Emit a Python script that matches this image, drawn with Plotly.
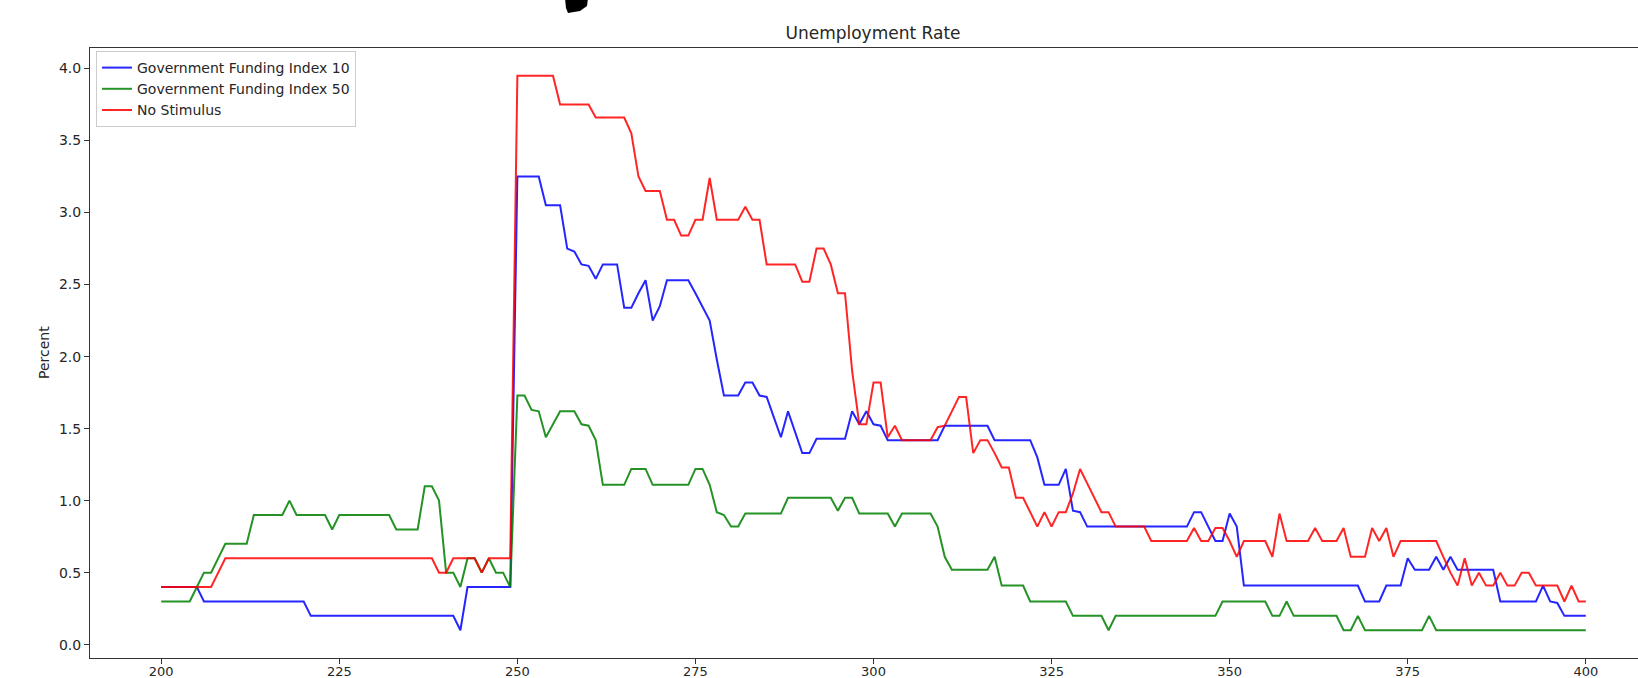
import plotly.graph_objects as go

# Simulation steps shown on the x axis
steps = list(range(200, 401))

# Unemployment rate (%) per step, one value per step from 200 to 400
funding_10 = [
    0.4, 0.4, 0.4, 0.4, 0.4, 0.4, 0.3, 0.3, 0.3, 0.3,          # 200
    0.3, 0.3, 0.3, 0.3, 0.3, 0.3, 0.3, 0.3, 0.3, 0.3,          # 210
    0.3, 0.2, 0.2, 0.2, 0.2, 0.2, 0.2, 0.2, 0.2, 0.2,          # 220
    0.2, 0.2, 0.2, 0.2, 0.2, 0.2, 0.2, 0.2, 0.2, 0.2,          # 230
    0.2, 0.2, 0.1, 0.4, 0.4, 0.4, 0.4, 0.4, 0.4, 0.4,          # 240
    3.25, 3.25, 3.25, 3.25, 3.05, 3.05, 3.05, 2.75, 2.73, 2.64,  # 250
    2.63, 2.54, 2.64, 2.64, 2.64, 2.34, 2.34, 2.44, 2.53, 2.25,  # 260
    2.35, 2.53, 2.53, 2.53, 2.53, 2.44, 2.35, 2.25, 1.98, 1.73,  # 270
    1.73, 1.73, 1.82, 1.82, 1.73, 1.72, 1.58, 1.44, 1.62, 1.47,  # 280
    1.33, 1.33, 1.43, 1.43, 1.43, 1.43, 1.43, 1.62, 1.53, 1.62,  # 290
    1.53, 1.52, 1.42, 1.42, 1.42, 1.42, 1.42, 1.42, 1.42, 1.42,  # 300
    1.52, 1.52, 1.52, 1.52, 1.52, 1.52, 1.52, 1.42, 1.42, 1.42,  # 310
    1.42, 1.42, 1.42, 1.30, 1.11, 1.11, 1.11, 1.22, 0.93, 0.92,  # 320
    0.82, 0.82, 0.82, 0.82, 0.82, 0.82, 0.82, 0.82, 0.82, 0.82,  # 330
    0.82, 0.82, 0.82, 0.82, 0.82, 0.92, 0.92, 0.82, 0.72, 0.72,  # 340
    0.91, 0.82, 0.41, 0.41, 0.41, 0.41, 0.41, 0.41, 0.41, 0.41,  # 350
    0.41, 0.41, 0.41, 0.41, 0.41, 0.41, 0.41, 0.41, 0.41, 0.30,  # 360
    0.30, 0.30, 0.41, 0.41, 0.41, 0.60, 0.52, 0.52, 0.52, 0.61,  # 370
    0.52, 0.61, 0.52, 0.52, 0.52, 0.52, 0.52, 0.52, 0.30, 0.30,  # 380
    0.30, 0.30, 0.30, 0.30, 0.41, 0.30, 0.29, 0.20, 0.20, 0.20,  # 390
    0.20,                                                        # 400
]

funding_50 = [
    0.3, 0.3, 0.3, 0.3, 0.3, 0.4, 0.5, 0.5, 0.6, 0.7,          # 200
    0.7, 0.7, 0.7, 0.9, 0.9, 0.9, 0.9, 0.9, 1.0, 0.9,          # 210
    0.9, 0.9, 0.9, 0.9, 0.8, 0.9, 0.9, 0.9, 0.9, 0.9,          # 220
    0.9, 0.9, 0.9, 0.8, 0.8, 0.8, 0.8, 1.1, 1.1, 1.0,          # 230
    0.5, 0.5, 0.4, 0.6, 0.6, 0.5, 0.6, 0.5, 0.5, 0.4,          # 240
    1.73, 1.73, 1.63, 1.62, 1.44, 1.53, 1.62, 1.62, 1.62, 1.53,  # 250
    1.52, 1.42, 1.11, 1.11, 1.11, 1.11, 1.22, 1.22, 1.22, 1.11,  # 260
    1.11, 1.11, 1.11, 1.11, 1.11, 1.22, 1.22, 1.11, 0.92, 0.90,  # 270
    0.82, 0.82, 0.91, 0.91, 0.91, 0.91, 0.91, 0.91, 1.02, 1.02,  # 280
    1.02, 1.02, 1.02, 1.02, 1.02, 0.93, 1.02, 1.02, 0.91, 0.91,  # 290
    0.91, 0.91, 0.91, 0.82, 0.91, 0.91, 0.91, 0.91, 0.91, 0.82,  # 300
    0.61, 0.52, 0.52, 0.52, 0.52, 0.52, 0.52, 0.61, 0.41, 0.41,  # 310
    0.41, 0.41, 0.30, 0.30, 0.30, 0.30, 0.30, 0.30, 0.20, 0.20,  # 320
    0.20, 0.20, 0.20, 0.10, 0.20, 0.20, 0.20, 0.20, 0.20, 0.20,  # 330
    0.20, 0.20, 0.20, 0.20, 0.20, 0.20, 0.20, 0.20, 0.20, 0.30,  # 340
    0.30, 0.30, 0.30, 0.30, 0.30, 0.30, 0.20, 0.20, 0.30, 0.20,  # 350
    0.20, 0.20, 0.20, 0.20, 0.20, 0.20, 0.10, 0.10, 0.20, 0.10,  # 360
    0.10, 0.10, 0.10, 0.10, 0.10, 0.10, 0.10, 0.10, 0.20, 0.10,  # 370
    0.10, 0.10, 0.10, 0.10, 0.10, 0.10, 0.10, 0.10, 0.10, 0.10,  # 380
    0.10, 0.10, 0.10, 0.10, 0.10, 0.10, 0.10, 0.10, 0.10, 0.10,  # 390
    0.10,                                                        # 400
]

no_stimulus = [
    0.4, 0.4, 0.4, 0.4, 0.4, 0.4, 0.4, 0.4, 0.5, 0.6,          # 200
    0.6, 0.6, 0.6, 0.6, 0.6, 0.6, 0.6, 0.6, 0.6, 0.6,          # 210
    0.6, 0.6, 0.6, 0.6, 0.6, 0.6, 0.6, 0.6, 0.6, 0.6,          # 220
    0.6, 0.6, 0.6, 0.6, 0.6, 0.6, 0.6, 0.6, 0.6, 0.5,          # 230
    0.5, 0.6, 0.6, 0.6, 0.6, 0.5, 0.6, 0.6, 0.6, 0.6,          # 240
    3.95, 3.95, 3.95, 3.95, 3.95, 3.95, 3.75, 3.75, 3.75, 3.75,  # 250
    3.75, 3.66, 3.66, 3.66, 3.66, 3.66, 3.55, 3.25, 3.15, 3.15,  # 260
    3.15, 2.95, 2.95, 2.84, 2.84, 2.95, 2.95, 3.24, 2.95, 2.95,  # 270
    2.95, 2.95, 3.04, 2.95, 2.95, 2.64, 2.64, 2.64, 2.64, 2.64,  # 280
    2.52, 2.52, 2.75, 2.75, 2.64, 2.44, 2.44, 1.90, 1.53, 1.53,  # 290
    1.82, 1.82, 1.44, 1.52, 1.42, 1.42, 1.42, 1.42, 1.42, 1.51,  # 300
    1.52, 1.62, 1.72, 1.72, 1.33, 1.42, 1.42, 1.33, 1.23, 1.23,  # 310
    1.02, 1.02, 0.92, 0.82, 0.92, 0.82, 0.92, 0.92, 1.05, 1.22,  # 320
    1.12, 1.02, 0.92, 0.92, 0.82, 0.82, 0.82, 0.82, 0.82, 0.72,  # 330
    0.72, 0.72, 0.72, 0.72, 0.72, 0.81, 0.72, 0.72, 0.81, 0.81,  # 340
    0.72, 0.61, 0.72, 0.72, 0.72, 0.72, 0.61, 0.91, 0.72, 0.72,  # 350
    0.72, 0.72, 0.81, 0.72, 0.72, 0.72, 0.81, 0.61, 0.61, 0.61,  # 360
    0.81, 0.72, 0.81, 0.61, 0.72, 0.72, 0.72, 0.72, 0.72, 0.72,  # 370
    0.61, 0.50, 0.41, 0.60, 0.41, 0.50, 0.41, 0.41, 0.50, 0.41,  # 380
    0.41, 0.50, 0.50, 0.41, 0.41, 0.41, 0.41, 0.30, 0.41, 0.30,  # 390
    0.30,                                                        # 400
]

series_names = ["Government Funding Index 10", "Government Funding Index 50", "No Stimulus"]
series_values = [funding_10, funding_50, no_stimulus]
series_colors = ["#0000ff", "#008000", "#ff0000"]

x_ticks = [200, 225, 250, 275, 300, 325, 350, 375, 400]
y_ticks = [0.0, 0.5, 1.0, 1.5, 2.0, 2.5, 3.0, 3.5, 4.0]

W, H = 1638, 678
M_L, M_R, M_T, M_B = 90, 0, 48, 20
FONT = "DejaVu Sans"
INK = "#262626"

fig = go.Figure()
for name, vals, col in zip(series_names, series_values, series_colors):
    fig.add_trace(go.Scatter(
        x=steps, y=vals, mode="lines", name=name,
        line=dict(color=col, width=2),
        opacity=0.85,
    ))

axis_common = dict(
    showgrid=False, zeroline=False, showline=True, automargin=False,
    linecolor="#333333", linewidth=1,
    ticks="outside", ticklen=5, tickwidth=1, tickcolor="#333333",
)

fig.update_layout(
    width=W, height=H,
    margin=dict(l=M_L, r=M_R, t=M_T, b=M_B, pad=0, autoexpand=False),
    paper_bgcolor="white", plot_bgcolor="white",
    font=dict(family=FONT, size=14, color=INK),
    title=dict(
        text="Unemployment Rate", font=dict(family=FONT, size=17, color=INK),
        xref="container", x=873 / W, xanchor="center",
        yref="container", y=1 - 33 / H, yanchor="middle",
    ),
    xaxis=dict(range=[190, 407.33], tickvals=x_ticks,
               ticktext=[str(v) for v in x_ticks], mirror=True,
               tickfont=dict(family=FONT, size=13, color=INK),
               ticklabelstandoff=-4, **axis_common),
    yaxis=dict(range=[-0.0925, 4.1425], tickvals=y_ticks,
               ticktext=[f"{v:.1f}" for v in y_ticks], mirror=False,
               tickfont=dict(family=FONT, size=14, color=INK), **axis_common),
    legend=dict(
        x=6 / (W - M_L - M_R), y=1 - 3 / (H - M_T - M_B),
        xanchor="left", yanchor="top",
        bgcolor="rgba(255,255,255,0.8)", bordercolor="#cccccc", borderwidth=1,
        font=dict(family=FONT, size=14, color=INK),
    ),
    showlegend=True,
)

fig.add_annotation(
    text="Percent", textangle=-90, showarrow=False,
    xref="paper", yref="paper",
    x=(44 - M_L) / (W - M_L - M_R), y=0.5,
    xanchor="center", yanchor="middle",
    font=dict(family=FONT, size=14, color=INK),
)


def to_paper(px, py):
    pw = W - M_L - M_R
    ph = H - M_T - M_B
    return (px - M_L) / pw, (H - M_B - py) / ph


# clipped glyph tail at the top edge of the page
pts = [(565, -2), (588, -2), (587, 6), (580, 11), (568, 13), (566, 8)]
path = "M " + " L ".join(f"{to_paper(a, b)[0]:.5f},{to_paper(a, b)[1]:.5f}" for a, b in pts) + " Z"
fig.add_shape(type="path", path=path, xref="paper", yref="paper",
              fillcolor="black", line=dict(width=0))

fig.write_html("out.html")
